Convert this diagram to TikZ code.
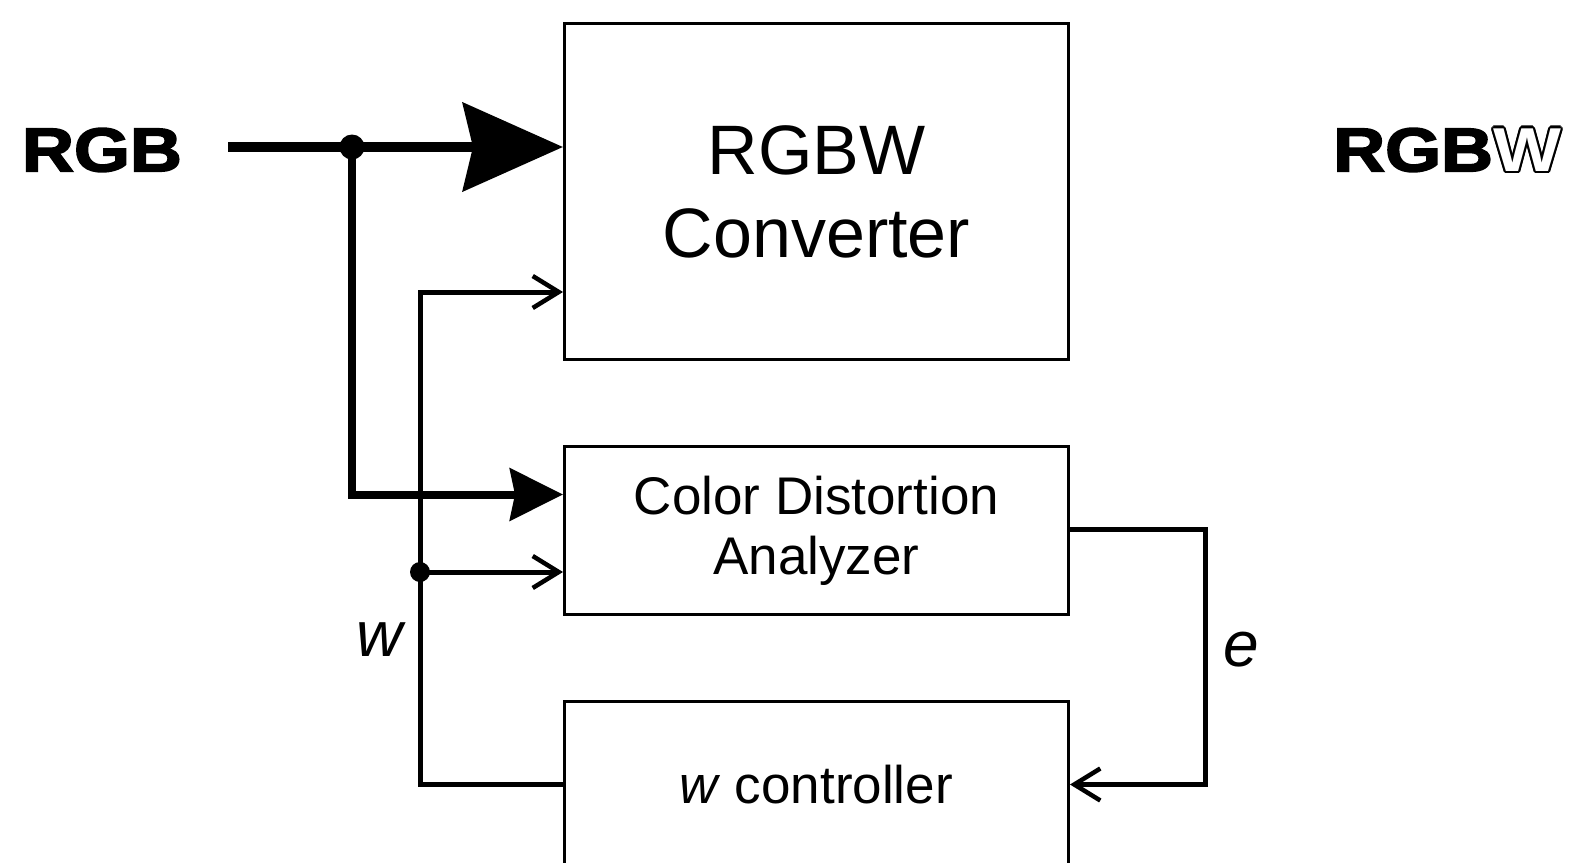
\documentclass[tikz,border=0pt]{standalone}
\usepackage{fontspec}
\setmainfont{Liberation Sans}
\newfontfamily\heavyfont[FakeBold=2.5]{Liberation Sans Bold}
\usetikzlibrary{arrows.meta}
\begin{document}
\begin{tikzpicture}[x=1pt,y=-1pt,
  blockbox/.style={draw, line width=3pt, minimum width=504pt, inner sep=0pt,
    anchor=north west, align=center},
  rgbline/.style={line width=10pt},
  wline/.style={line width=5pt, -{Straight Barb[length=26pt,width=32pt,line width=4.5pt]}},
  bigtip/.style={-{Stealth[length=100pt,width=88pt,inset=10pt]}},
  midtip/.style={-{Stealth[length=53pt,width=52pt,inset=5pt]}},
  sym/.style={font=\fontsize{64}{64}\selectfont\itshape, inner sep=0pt},
  iolabel/.style={font=\fontsize{62}{62}\selectfont\heavyfont, inner sep=0pt},
  hollowW/.style={font=\fontsize{62}{62}\selectfont\bfseries, inner sep=0pt, anchor=west}]

\useasboundingbox (0,0) rectangle (1574,862);
\fill[white] (0,0) rectangle (1574,862);
\clip (0,0) rectangle (1574,862);

% blocks
\node[blockbox, minimum height=336pt, font=\fontsize{70}{83}\selectfont]
  (conv) at (563,22) {RGBW\\Converter};
\node[blockbox, minimum height=168pt, font=\fontsize{53}{60}\selectfont]
  (ana) at (563,445) {Color Distortion\\Analyzer};
\node[blockbox, minimum height=166pt] (ctrl) at (563,700) {};
\node[font=\fontsize{53}{53}\selectfont, anchor=base, inner sep=0pt]
  (ctrltext) at (816,803) {\textit{w} controller};

% input and output labels
\node[iolabel] (rgbin) at (102,150) {\scalebox{1.16}[1]{RGB}};
\node[iolabel, anchor=west] (rgbout) at (1333,150) {\scalebox{1.16}[1]{RGB}};
% hollow W: black copies ringed round a white one
\foreach \a in {0,30,...,330}
  \node[hollowW, text=black] at ([shift={(\a:2.4pt)}]rgbout.east) {\scalebox{1.16}[1]{W}};
\node[hollowW, text=white] (wout) at (rgbout.east) {\scalebox{1.16}[1]{W}};

% RGB input path
\coordinate (rgbstart) at (228,147);
\coordinate (rgbsplit) at (352,147);
\draw[rgbline, bigtip] (rgbstart) -- (conv.west |- rgbstart);
\draw[line width=8pt, midtip] (rgbsplit) |- ([yshift=36pt]ana.west);
\fill (rgbsplit) circle (12.5pt);

% w feedback path
\coordinate (wtop) at (420,292);
\coordinate (wsplit) at (420,572);
\draw[wline] (ctrl.west) -| (wtop) -- (conv.west |- wtop);
\draw[wline] (wsplit) -- (ana.west |- wsplit);
\fill (wsplit) circle (10pt);
\node[sym] (wlab) at (380,640) {w};

% error path
\coordinate (eright) at (1205,650);
\draw[wline] ([yshift=1pt]ana.east) -| (eright) |- (ctrl.east);
\node[sym] (elab) at (1241,650) {e};
\end{tikzpicture}
\end{document}
